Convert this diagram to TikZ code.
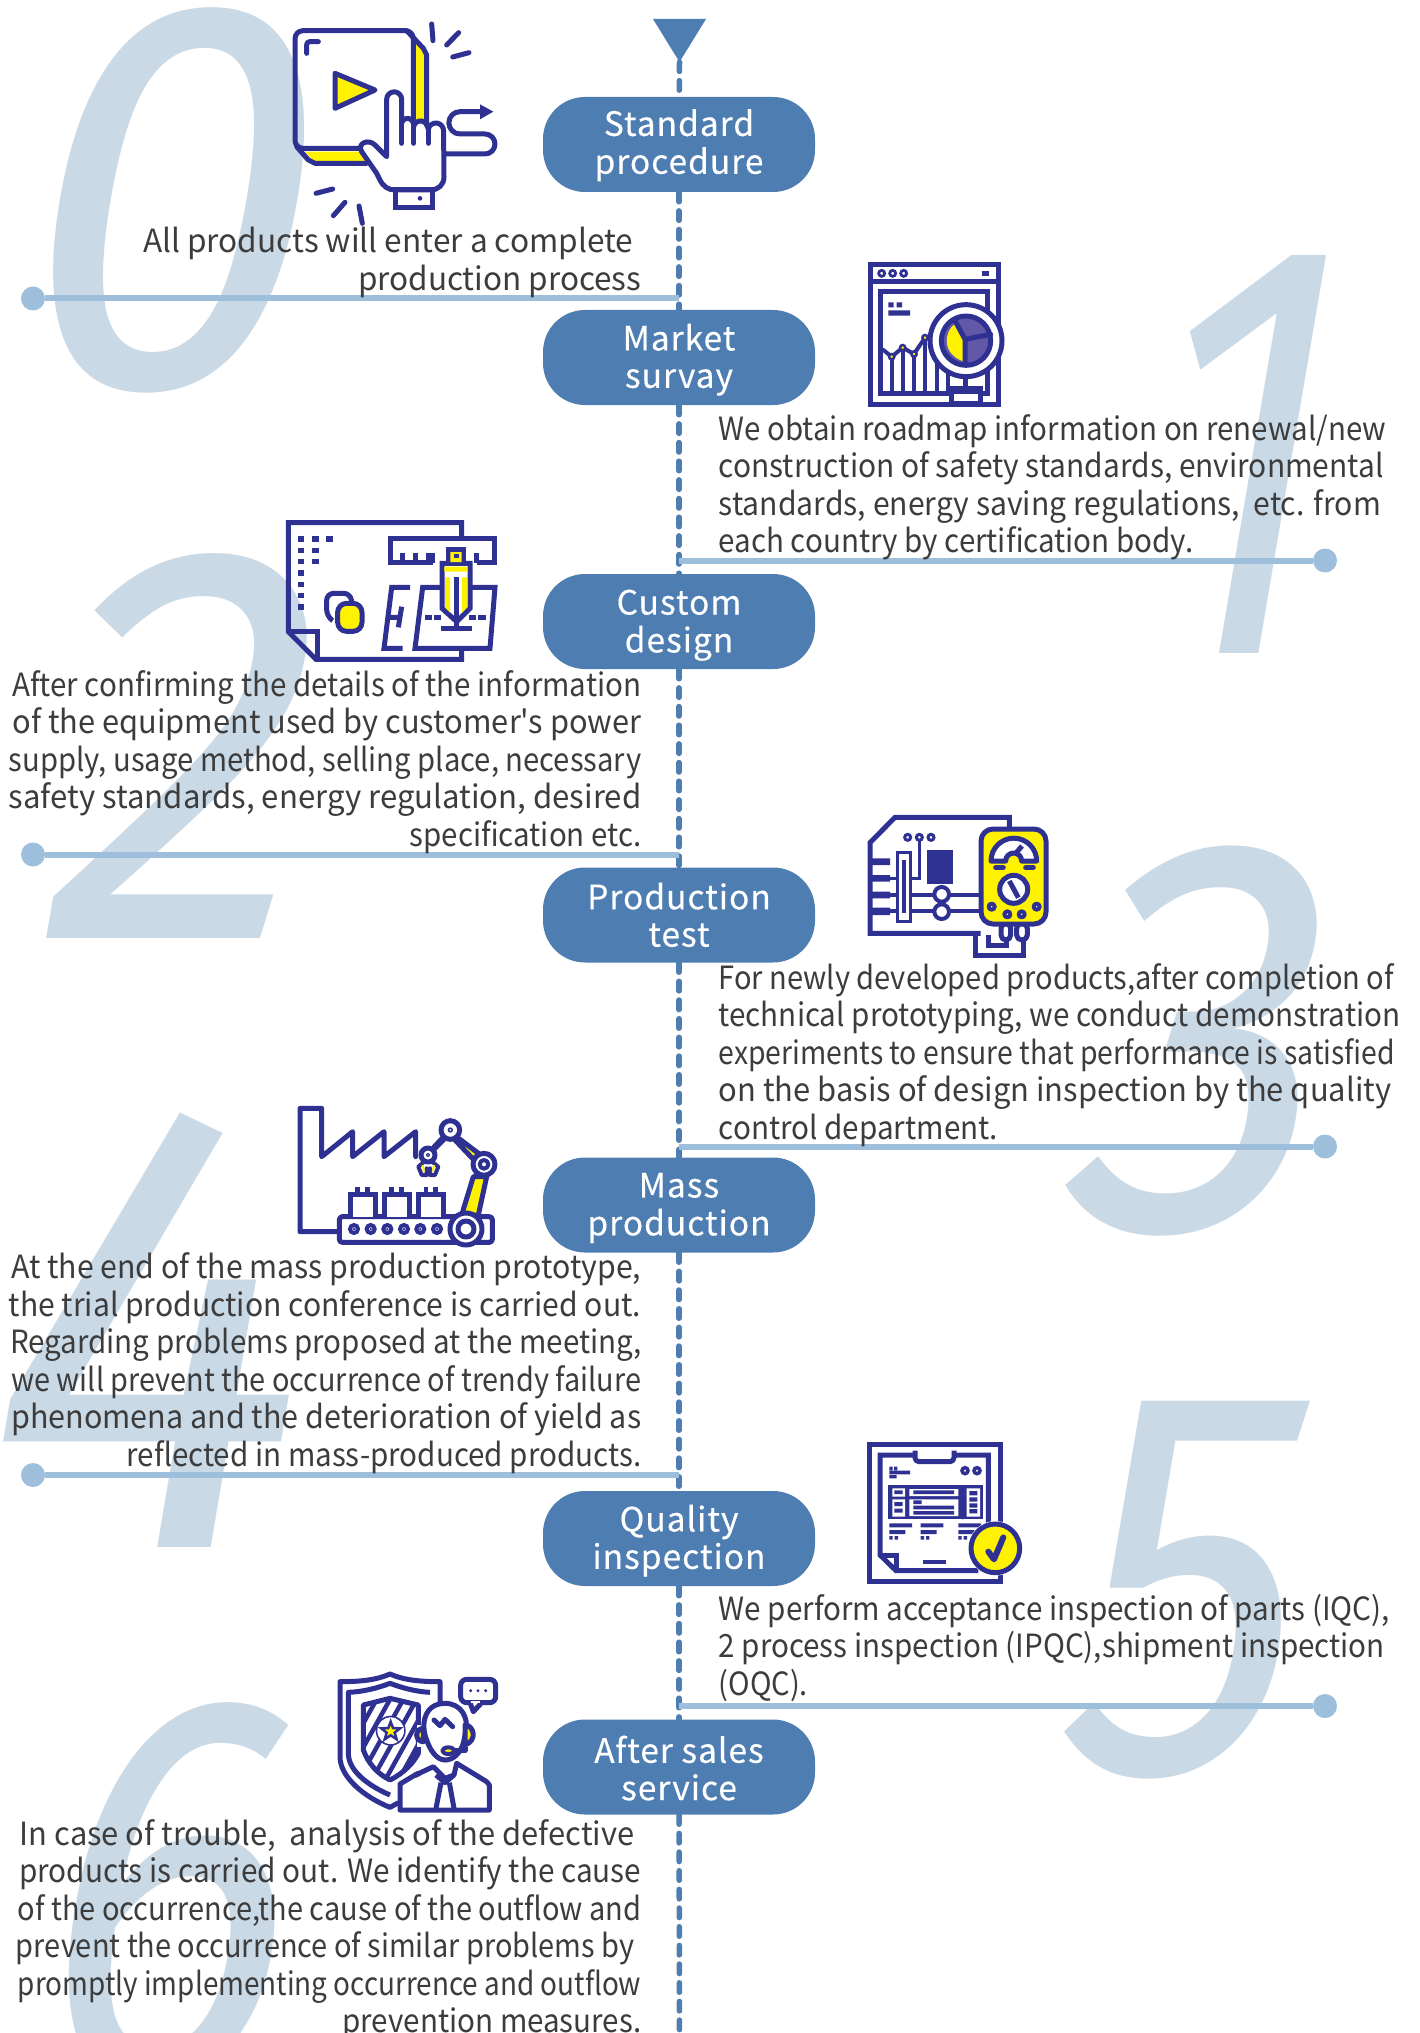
\documentclass[tikz,border=0pt]{standalone}
\usepackage{fontspec}
\usepackage{graphicx}
\setmainfont[Ligatures=TeXOff]{Noto Sans CJK SC}
\newfontfamily\boxfont[LetterSpace=3,FakeBold=0.3]{Noto Sans CJK SC}
\newfontfamily\digfont{Fira Sans}
\usetikzlibrary{backgrounds}
\definecolor{stepblue}{HTML}{4E7DB2}
\definecolor{tapblue}{HTML}{9DBFDC}
\definecolor{digblue}{HTML}{CAD9E6}
\definecolor{ink}{HTML}{2E3192}
\definecolor{lemon}{HTML}{FFF200}
\definecolor{plum}{HTML}{6159A8}
\definecolor{txt}{HTML}{3C3C3C}
\tikzset{
 stepbox/.style={fill=stepblue,text=white,rounded corners=42pt,minimum width=272pt,minimum height=95pt,inner sep=0pt,font=\boxfont\fontsize{33.5}{37.4}\selectfont},
 spine/.style={draw=stepblue,line width=5.5pt,line cap=round,dash pattern=on 9.5pt off 9.17pt},
 tap/.style={draw=tapblue,line width=6pt},
 tapdot/.style={circle,fill=tapblue,minimum size=24pt,inner sep=0pt},
 leftp/.style={anchor=north east,align=right,inner sep=0pt,text=txt,font=\fontsize{32}{37.5}\selectfont},
 rightp/.style={anchor=north west,align=left,inner sep=0pt,text=txt,font=\fontsize{32}{37.5}\selectfont},
 ic/.style={draw=ink,line width=5pt,line join=round,line cap=round},
 icw/.style={ic,fill=white},
 icy/.style={ic,fill=lemon},
 iconat/.style={shift={#1},x=0.33333pt,y=-0.33333pt}
}
\newcommand{\bigd}[7]{\begin{scope}[shift={(#3,#4)},xslant=#7,xscale=#6]\node[transform shape,anchor=base,inner sep=0pt,text=digblue,font=\digfont\fontsize{#5}{#5}\selectfont] (#1) at (0,0) {#2};\end{scope}}
\newcommand{\lab}[3]{\raisebox{0pt}[\dimexpr\height+#1pt*2\relax][\depth]{\begin{tabular}{@{}c@{}}#2\\#3\end{tabular}}}
\newcommand{\fl}[2]{\resizebox{\fpeval{#1*1.2935}pt}{\height}{#2}}
\newcommand{\gapr}[1]{\rule{#1pt}{0pt}}
\begin{document}
\begin{tikzpicture}[x=1pt,y=-1pt]
\useasboundingbox (0,0) rectangle (1419,2033);
\coordinate (tip) at (679.5,62);
\coordinate (endspine) at (679.5,2040);
\node[stepbox] (std) at (679,144.5) {\lab{2.6}{Standard}{procedure}};
\node[stepbox] (mkt) at (679,357.5) {\lab{3.9}{Market}{survay}};
\node[stepbox] (cus) at (679,621.5) {\lab{4.5}{Custom}{design}};
\node[stepbox] (prd) at (679,915) {\lab{5.2}{Production}{test}};
\node[stepbox] (mas) at (679,1205) {\lab{3.9}{Mass}{production}};
\node[stepbox] (qua) at (679,1538.5) {\lab{3.9}{Quality}{inspection}};
\node[stepbox] (aft) at (679,1767) {\lab{6.5}{After sales}{service}};
\node[tapdot] (d0) at (33,298.5) {};
\node[tapdot] (d1) at (1325,560.5) {};
\node[tapdot] (d2) at (33,854.5) {};
\node[tapdot] (d3) at (1325,1146.5) {};
\node[tapdot] (d4) at (33,1475) {};
\node[tapdot] (d5) at (1325,1706) {};
\coordinate (t0) at (679,298.5);
\coordinate (t1) at (679,560.5);
\coordinate (t2) at (679,854.5);
\coordinate (t3) at (679,1146.5);
\coordinate (t4) at (679,1475);
\coordinate (t5) at (679,1706);
\begin{scope}[on background layer]
\bigd{zero}{0}{147}{386.5}{558}{0.95}{0.17}
\bigd{one}{1}{1213}{653}{595}{0.72}{0.17}
\bigd{two}{2}{160}{938}{567}{0.955}{0.17}
\bigd{three}{3}{1178}{1229.5}{565}{0.905}{0.17}
\bigd{four}{4}{122}{1547}{640}{0.94}{0.17}
\bigd{five}{5}{1162}{1772}{555}{0.84}{0.17}
\bigd{six}{6}{145}{2081}{558}{0.835}{0.17}
\fill[stepblue] (653,19) -- (706,19) -- (tip) -- cycle;
\draw[spine] (tip) -- (std);
\draw[spine] (std) -- (mkt);
\draw[spine] (mkt) -- (cus);
\draw[spine] (cus) -- (prd);
\draw[spine] (prd) -- (mas);
\draw[spine] (mas) -- (qua);
\draw[spine] (qua) -- (aft);
\draw[spine] (aft) -- (endspine);
\foreach \i in {0,...,5} {\draw[tap] (d\i) -- (t\i);}
\end{scope}
% icon 0
\begin{scope}[iconat={(280,10)}]
\fill[lemon] (405,95) -- (432,125) -- (432,345) -- (405,345) -- cycle;
\fill[lemon] (75,425) -- (240,425) -- (260,458) -- (105,458) -- cycle;
\draw[ic] (380,62) -- (430,115) -- (440,135) -- (440,350);
\draw[ic] (50,410) -- (85,450) -- (105,460) -- (260,460);
\draw[ic,rounded corners=8pt] (400,340) -- (400,62) -- (45,62) -- (45,415) -- (250,415);
\draw[ic,rounded corners=3pt] (80,130) -- (80,95) -- (115,95);
\draw[icy] (165,190) -- (285,240) -- (165,295) -- cycle;
\draw[ic] (495,432) -- (615,432) arc (90:-90:30) -- (540,372) arc (90:270:33.5) -- (605,305);
\fill[ink] (600,283) -- (640,305) -- (600,328) -- cycle;
\draw[icw] (320,440) -- (320,268) arc (180:360:22.5) -- (365,340) arc (190:350:18) -- (401,350) arc (190:350:21) -- (445,358) arc (190:360:23) -- (492,500) .. controls (492,525) and (475,540) .. (450,540) -- (345,540) .. controls (325,540) and (310,530) .. (300,510) -- (290,490) -- (245,425) .. controls (230,400) and (265,385) .. (285,405) -- cycle;
\draw[ic] (365,340) -- (365,400) (401,350) -- (401,400) (445,358) -- (445,400);
\draw[ic,line join=miter,line cap=butt] (345,540) rectangle (458,592);
\fill[ink] (420,565) circle (7);
\draw[ic] (455,42) -- (459,92) (536,68) -- (500,105) (567,128) -- (518,141) (158,537) -- (108,550) (195,577) -- (160,617) (237,588) -- (247,640);
\end{scope}
% icon 1
\begin{scope}[iconat={(850,250)}]
\draw[ic,line cap=butt,line join=miter] (60,45) rectangle (445,465);
\draw[ic,line cap=butt] (60,95) -- (445,95);
\foreach \cx in {95,128,161} {\draw[ink,line width=2.8pt,fill=white] (\cx,70) circle (9);}
\fill[ink] (395,63) rectangle (418,78);
\draw[ic,line cap=butt,line join=miter] (92,125) rectangle (412,432);
\fill[ink] (115,157) rectangle (131,172) (140,157) rectangle (156,172) (115,181) rectangle (180,197);
\foreach \vx/\vy in {125/320,158/293,192/312,225/263,262/300,293/330} {\draw[ic,line width=4pt,line cap=butt] (\vx,\vy) -- (\vx,432);}
\draw[ic,line width=4pt] (100,300) -- (125,320) -- (158,293) -- (192,312) -- (225,263) -- (245,258);
\foreach \vx/\vy in {125/320,158/293,192/312,225/263} {\draw[ink,line width=2.5pt,fill=lemon] (\vx,\vy) circle (8);}
\draw[icw] (348,272) circle (108);
\fill[plum] (348,272) circle (72);
\fill[lemon] (315,222) .. controls (285,240) and (270,310) .. (342,335) -- (342,272) -- cycle;
\draw[ic] (348,272) circle (74);
\draw[ic] (345,268) -- (315,212) (345,268) -- (345,340) (345,268) -- (422,253);
\draw[ic,line cap=butt] (345,380) -- (345,412);
\fill[ink] (297,408) rectangle (398,428);
\draw[icw,line cap=butt,line join=miter] (305,425) rectangle (390,462);
\end{scope}
% icon 2
\begin{scope}[iconat={(260,500)}]
\draw[ic,line cap=butt,line join=miter] (605,108) -- (605,68) -- (85,68) -- (85,395) -- (168,478) -- (605,478) -- (605,448);
\draw[ic,line cap=butt,line join=miter] (85,393) -- (172,393) -- (172,478);
\foreach \dy in {117,151,185,219,253,287,321} {\fill[ink] (113,\dy-8) rectangle (133,\dy+8);}
\foreach \dy in {117,151,185} {\fill[ink] (156,\dy-8) rectangle (176,\dy+8);}
\fill[ink] (198,109) rectangle (218,125);
\draw[ic,rounded corners=7pt,line cap=butt] (218,362) -- (200,350) -- (200,280) -- (272,280) -- (275,305);
\draw[icy,rounded corners=9pt] (233,310) rectangle (306,394);
\draw[ic,line cap=butt,line join=miter] (520,188) -- (392,188) -- (392,115) -- (702,115) -- (702,188) -- (650,188);
\draw[ic,line cap=butt] (426,188) -- (426,158) (466,188) -- (466,158) (506,188) -- (506,158) (518,188) -- (518,158) (650,188) -- (650,158);
\draw[ic,line cap=butt,line join=miter] (450,262) -- (395,262) -- (372,445) -- (428,445);
\draw[ic,line cap=butt] (425,320) -- (415,382) (385,352) -- (420,352);
\draw[ic,line cap=butt,line join=miter] (560,262) -- (488,262) -- (465,445) -- (690,445) -- (705,262) -- (630,262);
\draw[ic,line cap=butt] (495,352) -- (515,352) (522,352) -- (542,352) (628,352) -- (648,352) (655,352) -- (678,352);
\draw[icw,line cap=butt,line join=miter] (546,190) -- (630,190) -- (630,325) -- (590,365) -- (546,325) -- cycle;
\fill[ink] (558,142) rectangle (618,190);
\fill[lemon] (571,156) rectangle (605,186) (553,200) rectangle (621,215);
\fill[ink] (582,163) rectangle (598,175);
\fill[lemon] (555,232) -- (570,232) -- (570,338) -- (555,322) -- cycle (606,232) -- (621,232) -- (621,322) -- (606,338) -- cycle;
\draw[ic,line cap=butt] (590,232) -- (590,380);
\draw[ic,line cap=butt] (543,384) -- (636,384);
\end{scope}
% icon 3
\begin{scope}[iconat={(850,800)}]
\draw[ic,line cap=butt,line join=miter] (478,85) -- (478,52) -- (135,52) -- (60,128) -- (60,400) -- (392,400);
\fill[ink] (60,175) rectangle (120,195) (60,225) rectangle (120,245) (60,275) rectangle (120,295) (60,323) rectangle (120,345);
\foreach \cx in {173,208,243} {\draw[ink,line width=3pt,fill=white] (\cx,112) circle (9);}
\draw[ink,line width=3.5pt] (208,121) -- (208,235) -- (120,235);
\draw[ink,line width=3.5pt] (120,285) -- (390,285) (120,333) -- (390,333);
\draw[ink,line width=3pt,fill=white] (143,157) rectangle (181,365);
\draw[ink,line width=3.5pt] (162,180) -- (162,340);
\fill[ink] (230,150) rectangle (308,252);
\draw[ink,line width=4pt,fill=white] (275,283) circle (22) (275,335) circle (22);
\draw[ic,line cap=butt,line join=miter] (375,405) -- (375,465) -- (520,465) -- (520,420);
\draw[ic,line cap=butt,line join=miter] (415,405) -- (415,435) -- (470,435) -- (470,420);
\draw[icw,rounded corners=5pt] (453,370) rectangle (482,420);
\draw[icw,rounded corners=5pt] (500,370) rectangle (532,420);
\draw[icy,rounded corners=12pt] (393,87) rectangle (588,372);
\draw[icw] (423,183) arc (180:360:68.5) -- (515,183) arc (0:-180:24) -- cycle;
\draw[ic,line cap=butt] (497,160) -- (516,138);
\draw[ic] (437,203) -- (460,203) (527,203) -- (550,203);
\draw[icw] (491,268) circle (42);
\draw[ic,line cap=butt] (478,243) -- (505,293);
\foreach \cx/\cy in {425/320,472/343,515/343,560/320} {\draw[icw,line width=4pt] (\cx,\cy) circle (9);}
\end{scope}
% icon 4
\begin{scope}[iconat={(280,1090)}]
\draw[ic] (178,425) -- (60,425) -- (60,55) -- (125,55) -- (125,200) -- (218,125) -- (218,200) -- (312,125) -- (312,200) -- (407,125) -- (407,200);
\draw[icw,rounded corners=3pt] (178,380) rectangle (637,457);
\foreach \cx in {222,272,322,372,421,471} {\draw[ink,line width=4pt,fill=white] (\cx,417) circle (12); \fill[ink] (\cx,417) circle (4);}
\foreach \bx in {210,312,415} {\draw[icw,line cap=butt,line join=miter] (\bx,380) -- (\bx,312) -- (\bx+76,312) -- (\bx+76,380);
 \draw[ic,line width=4.5pt,line cap=butt] (\bx+23,312) -- (\bx+23,290) (\bx+52,312) -- (\bx+52,290);}
\draw[icy] (580,260) -- (620,260) -- (595,375) -- (545,375) -- cycle;
\draw[icw] (558,417) circle (48);
\draw[icw] (558,417) circle (24);
\draw[icy] (532,142) -- (598,192) -- (580,208) -- (525,150) -- cycle;
\draw[ic,line width=3.5pt,fill=white] (488,140) -- (460,170) -- (465,178) -- (495,148) -- cycle;
\draw[icw] (612,223) circle (33);
\draw[ic,line width=4pt,fill=white] (612,223) circle (13);
\draw[icw] (511,120) circle (28);
\fill[ink] (511,120) circle (8);
\fill[white] (511,120) circle (3);
\draw[ic,line width=4pt] (432,215) -- (415,230) -- (425,255) -- (440,255) -- (440,235) (456,215) -- (475,230) -- (465,255) -- (450,255) -- (450,235);
\draw[lemon,line width=2pt] (428,225) -- (432,245) (462,225) -- (458,245);
\draw[icw] (444,195) circle (21);
\fill[ink] (444,195) circle (6);
\fill[white] (444,195) circle (2);
\end{scope}
% icon 5
\begin{scope}[iconat={(850,1420)}]
\draw[ic,line cap=butt,line join=miter] (58,72) rectangle (450,484);
\draw[ic,line cap=butt,line join=miter] (415,340) -- (415,105) -- (90,105) -- (90,405) -- (138,452) -- (385,452);
\draw[ic,line cap=butt,line join=miter] (90,405) -- (140,405) -- (140,452);
\fill[white] (200,92) rectangle (306,115);
\draw[ic,rounded corners=4pt,line cap=butt] (195,92) -- (195,125) -- (312,125) -- (312,92);
\fill[ink] (118,140) rectangle (128,150) (132,140) rectangle (142,150) (118,152) rectangle (180,163) (118,165) rectangle (140,175);
\draw[ink,line width=3.5pt,fill=white] (345,152) circle (9) (381,152) circle (9);
\fill[ink] (115,195) rectangle (400,298);
\fill[white] (127,205) rectangle (165,230) (127,238) rectangle (165,290) (178,207) rectangle (325,228) (178,238) rectangle (325,288) (350,205) rectangle (390,290);
\fill[ink] (133,211) rectangle (158,222) (133,246) rectangle (158,258) (133,266) rectangle (158,278) (190,211) rectangle (312,222) (190,241) rectangle (215,252) (190,257) rectangle (312,268) (190,273) rectangle (312,284) (358,213) rectangle (382,226) (358,232) rectangle (382,245) (358,250) rectangle (382,263) (358,267) rectangle (382,280) (337,195) rectangle (340,298);
\foreach \bx in {118,212,325} {\fill[ink] (\bx,310) rectangle (\bx+68,322) (\bx,330) rectangle (\bx+48,342) (\bx,348) rectangle (\bx+10,359) (\bx+16,348) rectangle (\bx+26,359);}
\fill[ink] (220,421) rectangle (287,433);
\fill[white] (436,385) circle (82);
\draw[icy] (436,385) circle (73);
\draw[ic,line width=6pt] (415,395) -- (432,418) -- (460,352);
\end{scope}
% icon 6
\begin{scope}[iconat={(330,1660)}]
\draw[ic,line cap=butt] (330,130) -- (330,65) .. controls (270,65) and (220,60) .. (180,42) .. controls (140,60) and (90,65) .. (30,65) -- (30,290) .. controls (30,350) and (100,410) .. (180,442) -- (205,428);
\draw[ic,line cap=butt] (300,97) .. controls (260,95) and (220,85) .. (180,70) .. controls (140,85) and (100,95) .. (55,97) -- (55,280) .. controls (55,330) and (110,375) .. (180,405);
\begin{scope}
\clip (180,115) -- (100,135) -- (100,270) .. controls (115,310) and (140,340) .. (180,360) .. controls (220,340) and (250,310) .. (265,280) -- (265,135) -- cycle;
\foreach \hx in {-80,-40,...,400} {\draw[ink,line width=4.5pt] (\hx,370) -- (\hx+150,100);}
\end{scope}
\draw[ic,line cap=butt] (180,115) -- (100,135) -- (100,270) .. controls (115,310) and (140,340) .. (180,360) .. controls (220,340) and (250,310) .. (265,280) -- (265,135) -- cycle;
\fill[ink] (182,212) circle (45);
\fill[white] (182,212) circle (40);
\draw[ink,line width=2.5pt,fill=lemon] (182,185) -- (189,204) -- (210,205) -- (194,218) -- (200,238) -- (182,226) -- (164,238) -- (170,218) -- (154,205) -- (175,204) -- cycle;
\fill[white] (262,195) rectangle (320,260);
\draw[icy] (280,205) arc (270:90:20) -- cycle;
\draw[icw,line cap=butt] (210,450) -- (210,372) -- (250,348) -- (310,320) -- (335,345) -- (345,355) -- (372,345) -- (380,310) -- (470,365) -- (478,375) -- (478,450) -- cycle;
\draw[ic,line cap=butt] (258,335) -- (265,350);
\draw[icw,line cap=butt] (290,240) .. controls (270,190) and (285,130) .. (345,130) .. controls (395,130) and (415,175) .. (408,210) -- (400,250) .. controls (390,280) and (370,300) .. (345,300) .. controls (320,300) and (300,270) .. (290,240) -- cycle;
\draw[ic] (312,180) -- (330,197) -- (345,178) -- (368,200);
\draw[ic,fill=lemon,line cap=butt] (405,195) .. controls (430,195) and (445,240) .. (405,255) -- cycle;
\draw[ic,line cap=butt] (405,262) -- (405,272) -- (365,272);
\draw[ic,fill=lemon,line width=4pt] (355,272) ellipse (18 and 10);
\draw[ic,line cap=butt] (318,345) -- (345,368) -- (372,345);
\draw[ic,line cap=butt] (333,368) -- (318,445) (358,368) -- (372,445);
\draw[icw,rounded corners=6pt] (392,58) rectangle (497,128);
\draw[ic,fill=white,line cap=butt] (420,128) -- (430,155) -- (455,128);
\fill[white] (424,122) rectangle (450,130);
\fill[ink] (422,92) circle (5) (444,92) circle (5) (467,92) circle (5);
\end{scope}
% paragraphs
\node[leftp] (p0) at (641.5,227) {\fl{379}{All products will enter a complete}\gapr{8}\\\fl{219}{production process}};
\node[rightp] (p1) at (718.5,414) {\fl{516}{We obtain roadmap information on renewal/new}\\\fl{514}{construction of safety standards, environmental}\\\fl{512}{standards, energy saving regulations,~ etc. from}\\\fl{367}{each country by certification body.}};
\node[leftp] (p2) at (641.5,670) {\fl{486}{After confirming the details of the information}\\\fl{486}{of the equipment used by customer's power}\\\fl{489}{supply, usage method, selling place, necessary}\\\fl{489}{safety standards, energy regulation, desired}\\\fl{179}{specification etc.}};
\node[rightp] (p3) at (718.5,963) {\fl{522}{For newly developed products,after completion of}\\\fl{527}{technical prototyping, we conduct demonstration}\\\fl{523}{experiments to ensure that performance is satisfied}\\\fl{520}{on the basis of design inspection by the quality}\\\fl{216}{control department.}};
\node[leftp] (p4) at (641.5,1252.5) {\fl{487}{At the end of the mass production prototype,}\\\fl{489}{the trial production conference is carried out.}\\\fl{488}{Regarding problems proposed at the meeting,}\\\fl{487}{we will prevent the occurrence of trendy failure}\\\fl{487}{phenomena and the deterioration of yield as}\\\fl{398}{reflected in mass-produced products.}};
\node[rightp] (p5) at (718.5,1594) {\fl{519}{We perform acceptance inspection of parts (IQC),}\\\fl{515}{2 process inspection (IPQC),shipment inspection}\\\fl{69}{(OQC).}};
\node[leftp] (p6) at (641.5,1819) {\fl{475}{In case of trouble,~ analysis of the defective}\gapr{7}\\\fl{481}{products is carried out. We identify the cause}\\\fl{482}{of the occurrence,the cause of the outflow and}\\\fl{478}{prevent the occurrence of similar problems by}\gapr{7}\\\fl{482}{promptly implementing occurrence and outflow}\\\fl{231}{prevention measures.}};
\end{tikzpicture}
\end{document}
